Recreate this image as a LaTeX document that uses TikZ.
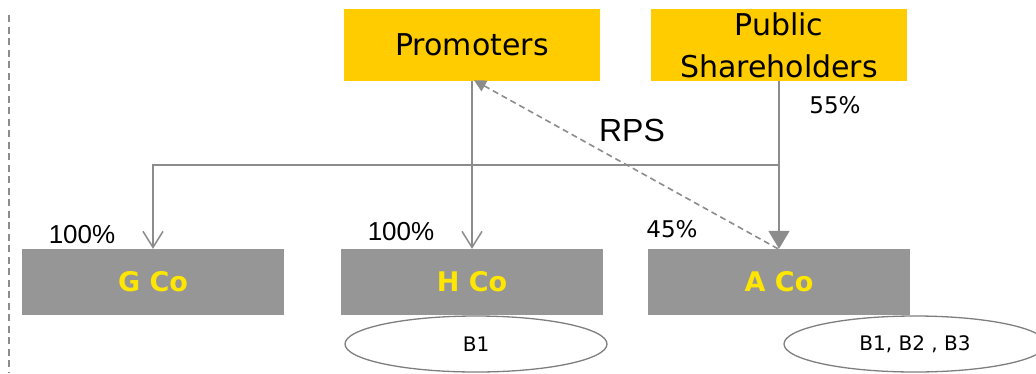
\documentclass[tikz,border=0pt]{standalone}
\usepackage{fontspec}
\setmainfont{Liberation Sans}
\newfontfamily\boxfont{DejaVu Sans}
\usetikzlibrary{arrows.meta,shapes.geometric}
\definecolor{eyyellow}{HTML}{FFCC00}
\definecolor{eytext}{HTML}{FFE600}
\definecolor{boxgray}{HTML}{969696}
\definecolor{linegray}{HTML}{8C8C8C}
\tikzset{
  holder/.style={fill=eyyellow, minimum width=256pt, minimum height=72pt, inner sep=0pt,
    align=center, font=\boxfont\fontsize{30}{42}\selectfont},
  company/.style={fill=boxgray, minimum width=262pt, minimum height=66pt, inner sep=0pt,
    text=eytext, font=\boxfont\bfseries\fontsize{27}{30}\selectfont},
  branch/.style={draw=linegray!90!black, line width=1.3pt, ellipse, minimum width=262pt,
    minimum height=56pt, inner sep=0pt, font=\boxfont\fontsize{20}{22}\selectfont},
  link/.style={draw=linegray, line width=1.8pt},
  openhead/.style={-{Straight Barb[length=16pt,width=20pt,line width=1.5pt]}},
  fullhead/.style={-{Triangle[length=18pt,width=21pt]}},
  rps/.style={draw=linegray, line width=1.6pt, dash pattern=on 6pt off 4pt,
    -{Triangle[length=12pt,width=12pt]}},
  pct/.style={font=\fontsize{26}{28}\selectfont, inner sep=0pt},
  pcti/.style={font=\boxfont\fontsize{23}{28}\selectfont, inner sep=0pt},
}
\begin{document}
\begin{tikzpicture}[x=1pt,y=-1pt]
\useasboundingbox (0,0) rectangle (1036,373);
\clip (0,0) rectangle (1036,373);

% left margin rule
\draw[draw=linegray, line width=2pt, dash pattern=on 7pt off 4.5pt] (8.5,15) -- (8.5,373);

% shareholders
\node[holder] (prom) at (472,45) {Promoters};
\node[holder] (pub)  at (779,45) {Public\\Shareholders};

% companies
\node[company] (g) at (153,282) {G Co};
\node[company] (h) at (472,282) {H Co};
\node[company] (a) at (779,282) {A Co};

% businesses
\node[branch] (e1) at (476,344) {B1};
\node[branch] (e2) at (915,344) {B1, B2 , B3};

% holding lines
\coordinate (bus) at (779,165);
\draw[link, openhead] (pub.south) -- (bus) -| (g.north);
\draw[link, openhead] (prom.south) -- (h.north);
\draw[link, fullhead] (bus) -- (a.north);
\draw[rps] ([xshift=-1pt]a.north) -- ([xshift=2pt,yshift=1pt]prom.south);

% labels
\node[pct]  (l1) at (82,235)  {100\%};
\node[pct]  (l2) at (401,232) {100\%};
\node[pcti] (l3) at (672,229) {45\%};
\node[pcti] (l4) at (835,105) {55\%};
\node[font=\fontsize{32}{34}\selectfont, inner sep=0pt] (rpsl) at (632,130) {RPS};
\end{tikzpicture}
\end{document}
